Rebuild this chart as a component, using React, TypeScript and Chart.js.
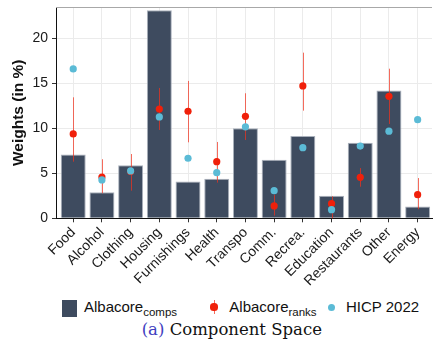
import React, { useEffect, useRef } from "react";
import { Chart, registerables } from "chart.js";

Chart.register(...registerables);

const categories = ["Food", "Alcohol", "Clothing", "Housing", "Furnishings", "Health", "Transpo", "Comm.", "Recrea.", "Education", "Restaurants", "Other", "Energy"];
const compsWeights = [7.1, 2.9, 5.9, 23.1, 4.1, 4.4, 10.0, 6.5, 9.15, 2.5, 8.4, 14.2, 1.3];
const ranksWeights = [9.37, 4.59, 5.2, 12.14, 11.89, 6.29, 11.33, 1.38, 14.7, 1.62, 4.55, 13.55, 2.62];
const ranksLow = [6.29, 2.78, 3.07, 9.81, 8.44, 3.96, 8.7, 0.3, 11.96, 0, 3.51, 10.48, 1.0];
const ranksHigh = [13.44, 6.56, 7.14, 14.48, 15.26, 8.48, 13.89, 2.62, 18.4, 2.44, 5.58, 16.62, 4.47];
const hicp2022 = [16.59, 4.26, 5.26, 11.26, 6.67, 5.07, 10.16, 3.07, 7.85, 0.96, 8.02, 9.68, 10.96];
const yTicks = [0, 5, 10, 15, 20];

const BAR = "#3e4b5f";
const RED = "#f0200a";
const BLUE = "#5bbbd6";
const ERR = "rgba(240,50,30,0.72)";
const SANS = "'Liberation Sans', Arial, sans-serif";

const errorBarPlugin = {
  id: "errbars",
  afterDatasetDraw(chart: any, args: any) {
    if (args.index !== 0) return;
    const { ctx, scales } = chart;
    const x = scales.x;
    const y = scales.y;
    ctx.save();
    ctx.strokeStyle = ERR;
    ctx.lineWidth = 1;
    ranksLow.forEach((lo, i) => {
      const px = Math.round(x.getPixelForValue(i)) + 0.5;
      ctx.beginPath();
      ctx.moveTo(px, y.getPixelForValue(lo));
      ctx.lineTo(px, y.getPixelForValue(ranksHigh[i]));
      ctx.stroke();
    });
    ctx.restore();
  },
  afterDraw(chart: any) {
    const { ctx, chartArea } = chart;
    ctx.save();
    ctx.strokeStyle = "#a8a8a8";
    ctx.lineWidth = 1;
    ctx.beginPath();
    ctx.moveTo(chartArea.left, Math.round(chartArea.top) + 0.5);
    ctx.lineTo(chartArea.right, Math.round(chartArea.top) + 0.5);
    ctx.stroke();
    ctx.restore();
  },
};

export default function App() {
  const ref = useRef<HTMLCanvasElement>(null);

  useEffect(() => {
    if (!ref.current) return;
    const chart = new Chart(ref.current, {
      type: "bar",
      data: {
        datasets: [
          {
            type: "bar",
            label: "Albacore comps",
            data: compsWeights.map((v, i) => ({ x: i, y: v })),
            backgroundColor: BAR,
            borderColor: "#aab1bc",
            borderWidth: 1,
            barPercentage: 0.87,
            categoryPercentage: 1,
            order: 3,
          } as any,
          {
            type: "scatter",
            label: "Albacore ranks",
            data: ranksWeights.map((v, i) => ({ x: i, y: v })),
            backgroundColor: RED,
            borderWidth: 0,
            pointRadius: 3.6,
            order: 2,
          } as any,
          {
            type: "scatter",
            label: "HICP 2022",
            data: hicp2022.map((v, i) => ({ x: i, y: v })),
            backgroundColor: BLUE,
            borderWidth: 0,
            pointRadius: 3.6,
            order: 1,
          } as any,
        ],
      },
      options: {
        animation: false,
        responsive: false,
        layout: { padding: { top: 7.3, left: 0, right: 0, bottom: 0 } },
        plugins: { legend: { display: false }, tooltip: { enabled: false } },
        scales: {
          x: {
            type: "linear",
            offset: false,
            min: -0.6,
            max: 12.5,
            afterBuildTicks: (s: any) => {
              s.ticks = categories.map((_, i) => ({ value: i }));
            },
            afterFit: (s: any) => {
              s.height = 76.7;
              s.paddingLeft = 0;
              s.paddingRight = 0;
            },
            ticks: {
              callback: (v: any) => categories[Math.round(v)],
              autoSkip: false,
              maxRotation: 45,
              minRotation: 45,
              font: { family: SANS, size: 14 },
              color: "#1a1a1a",
              padding: 2,
            },
            grid: { color: "#ebebeb", tickColor: "#333", tickLength: 4, lineWidth: 1, offset: false },
            border: { display: true, color: "#111", width: 1 },
          },
          y: {
            min: 0,
            max: 23.44,
            afterBuildTicks: (s: any) => {
              s.ticks = yTicks.map((v) => ({ value: v }));
            },
            afterFit: (s: any) => {
              s.width = 56;
              s.paddingTop = 0;
              s.paddingBottom = 0;
            },
            title: {
              display: true,
              text: "Weights (in %)",
              font: { family: SANS, size: 15.5, weight: "bold" },
              color: "#111",
              padding: { top: 9, bottom: 0 },
            },
            ticks: {
              font: { family: SANS, size: 14 },
              color: "#1a1a1a",
              padding: 4,
            },
            grid: { color: "#ebebeb", tickColor: "#333", tickLength: 4, lineWidth: 1 },
            border: { display: true, color: "#111", width: 1 },
          },
        },
      } as any,
      plugins: [errorBarPlugin],
    });
    return () => chart.destroy();
  }, []);

  const legendText: React.CSSProperties = {
    position: "absolute",
    top: 299.3,
    fontFamily: SANS,
    fontSize: 15,
    lineHeight: "15px",
    color: "#111",
    whiteSpace: "nowrap",
  };
  const sub: React.CSSProperties = { fontSize: 11.5, position: "relative", top: 4 };

  return (
    <div style={{ position: "absolute", left: 0, top: 0, width: 436, height: 339, overflow: "hidden", background: "#fff" }}>
      <div style={{ position: "absolute", left: 0, top: 0, width: 436, height: 295 }}>
        <canvas ref={ref} width={436} height={295} style={{ display: "block", width: 436, height: 295 }} />
      </div>
      <div style={{ position: "absolute", left: 62, top: 300, width: 15, height: 17, background: BAR }} />
      <div style={{ ...legendText, left: 84 }}>
        Albacore<span style={sub}>comps</span>
      </div>
      <div style={{ position: "absolute", left: 213.5, top: 300, width: 1, height: 14, background: ERR }} />
      <div style={{ position: "absolute", left: 210.4, top: 303.4, width: 7.2, height: 7.2, borderRadius: "50%", background: RED }} />
      <div style={{ ...legendText, left: 229.3 }}>
        Albacore<span style={sub}>ranks</span>
      </div>
      <div style={{ position: "absolute", left: 328.1, top: 303.7, width: 7.2, height: 7.2, borderRadius: "50%", background: BLUE }} />
      <div style={{ ...legendText, left: 346 }}>HICP 2022</div>
      <div
        style={{
          position: "absolute",
          left: 141.7,
          top: 322,
          fontFamily: "'DejaVu Serif', serif",
          fontSize: 16.5,
          lineHeight: "16.5px",
          color: "#111",
          whiteSpace: "nowrap",
        }}
      >
        <span style={{ color: "#4040c0" }}>(a)</span> Component Space
      </div>
    </div>
  );
}
